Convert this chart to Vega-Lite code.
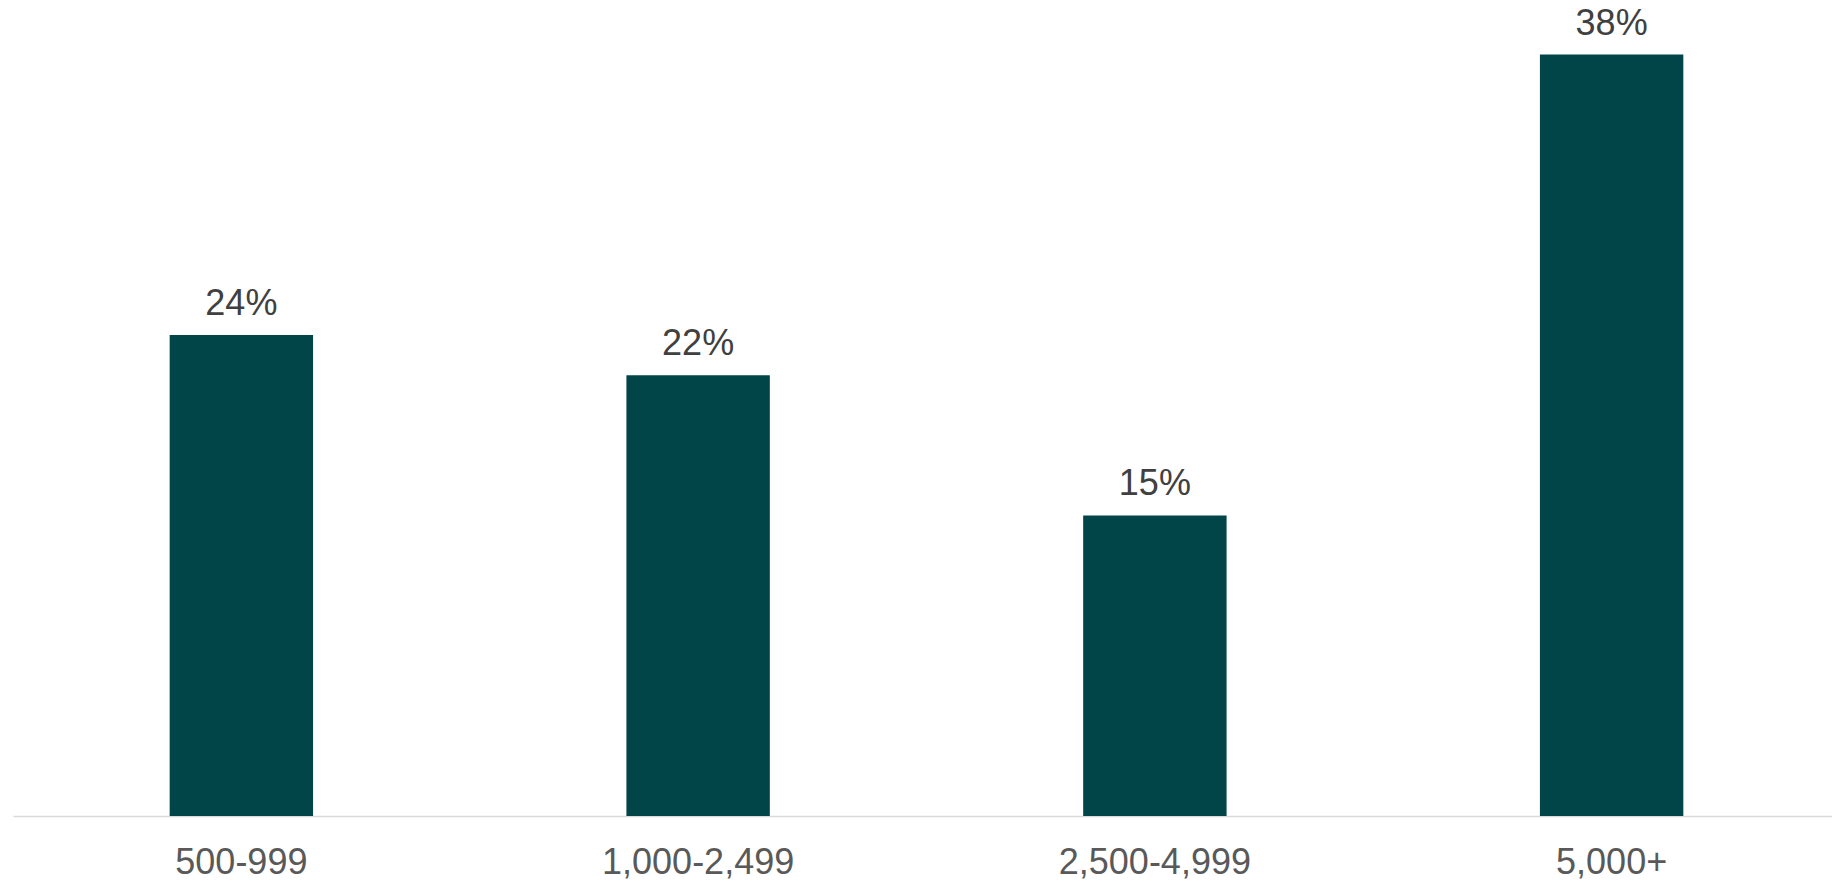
{
  "$schema": "https://vega.github.io/schema/vega-lite/v6.json",
  "width": 1827,
  "height": 816,
  "autosize": {"type": "none"},
  "padding": {"left": 13, "top": 0, "right": 0, "bottom": 67},
  "background": "#ffffff",
  "config": {"view": {"stroke": null}, "font": "Liberation Sans"},
  "data": {"values": [
    {"category": "500-999", "value": 0.24},
    {"category": "1,000-2,499", "value": 0.22},
    {"category": "2,500-4,999", "value": 0.15},
    {"category": "5,000+", "value": 0.38}
  ]},
  "encoding": {
    "x": {"field": "category", "type": "nominal", "sort": null,
      "scale": {"paddingInner": 0.686, "paddingOuter": 0.343},
      "axis": {"title": null, "ticks": false, "domain": true, "domainColor": "#D9D9D9", "domainWidth": 1.5,
        "labelAngle": 0, "labelFont": "Liberation Sans", "labelFontSize": 36, "labelColor": "#595959",
        "labelBaseline": "alphabetic", "labelPadding": 57, "labelLimit": 0, "grid": false}},
    "y": {"field": "value", "type": "quantitative", "scale": {"domain": [0, 0.4072], "nice": false, "zero": true}, "axis": null}
  },
  "layer": [
    {"mark": {"type": "bar", "color": "#014548"}},
    {"mark": {"type": "text", "baseline": "alphabetic", "dy": -20, "font": "Liberation Sans", "fontSize": 36, "color": "#404040"},
     "encoding": {"text": {"field": "value", "type": "quantitative", "format": ".0%"}}}
  ]
}
